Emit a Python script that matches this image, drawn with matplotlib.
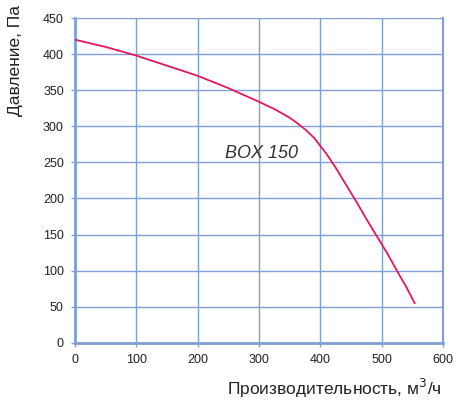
import matplotlib
matplotlib.use("Agg")
from matplotlib import pyplot as plt

# curve
flow = [0, 50, 100, 150, 200, 250, 300, 325, 350, 360, 375, 390, 400, 410,
        425, 435, 450, 460, 475, 485, 500, 510, 525, 540, 554]
pressure = [420, 410, 398, 384, 370, 353, 334, 324, 312, 306, 296, 284, 273, 262,
            243, 229, 208, 194, 172, 158, 137, 123, 100, 78, 55]

x_ticks = [0, 100, 200, 300, 400, 500, 600]
y_ticks = [0, 50, 100, 150, 200, 250, 300, 350, 400, 450]

grid_col = "#7f9fd6"
line_col = "#e8175d"

plt.rcParams["font.family"] = ["Liberation Sans", "DejaVu Sans"]

fig = plt.figure(figsize=(4.57, 4.01), dpi=100)
ax = fig.add_axes([0.164, 0.145, 0.805, 0.81])

ax.plot(flow, pressure, color=line_col, lw=1.3, zorder=3)

ax.set_xlim(0, 600)
ax.set_ylim(0, 450)
ax.set_xticks(x_ticks)
ax.set_yticks(y_ticks)
ax.grid(True, color=grid_col, lw=1.0, zorder=0)
ax.set_axisbelow(True)

for s in ["left", "bottom"]:
    ax.spines[s].set_color(grid_col)
    ax.spines[s].set_linewidth(2)
ax.spines["right"].set_color(grid_col)
ax.spines["right"].set_linewidth(1.5)
ax.spines["top"].set_visible(False)

ax.tick_params(colors=grid_col, length=3, width=1, labelcolor="#222222", labelsize=9, pad=5)

ax.text(305, 262, "BOX 150", style="italic", fontsize=13, color="#333333",
        ha="center", va="center")

fig.text(0.035, 0.988, "Давление, Па", rotation=90, fontsize=12.5, color="#222222",
         ha="center", va="top")
fig.text(0.967, 0.032, "Производительность, м$^3$/ч", fontsize=12.5, color="#222222",
         ha="right", va="center")

fig.savefig("out.png", dpi=100)
